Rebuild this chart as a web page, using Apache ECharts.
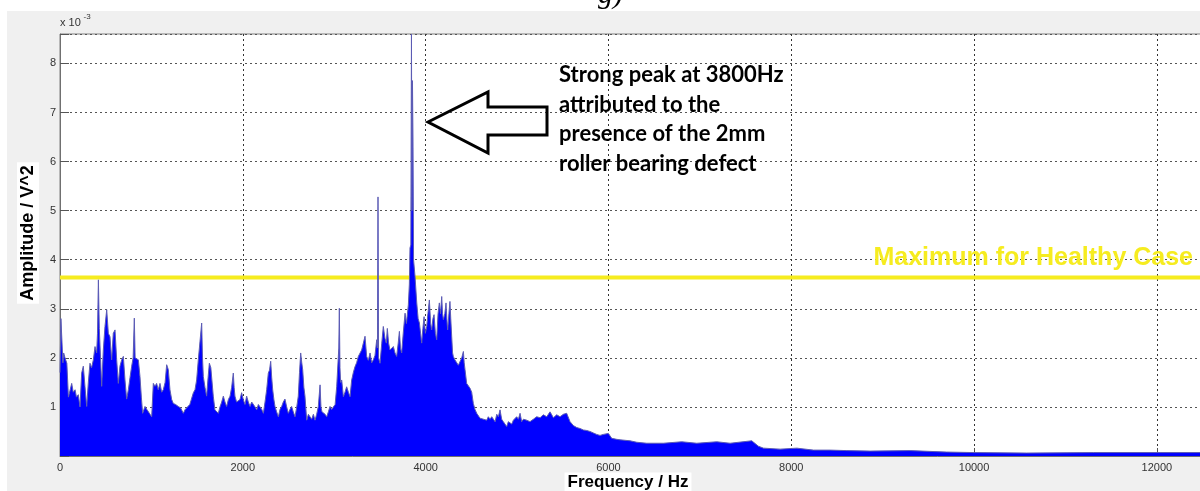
<!DOCTYPE html>
<html>
<head>
<meta charset="utf-8">
<script src="https://cdn.jsdelivr.net/npm/echarts@6/dist/echarts.min.js"></script>
<style>
html,body{margin:0;padding:0;background:#fff;overflow:hidden;width:1200px;height:491px;}
#bg{position:absolute;left:7px;top:11px;width:1193px;height:480px;background:#f0f0f0;}
#chart{position:absolute;left:0;top:0;width:1240px;height:491px;}
</style>
</head>
<body>
<div id="bg"></div>
<div id="chart"></div>
<script>
// ---- data ----
// Frequency (Hz) of each envelope point
const freqHz = [
0,10,25,32,40,55,75,92,109,128,145,165,180,200,219,237,255,273,292,310,328,345,365,383,401,410,420,430,438,456,474,492,511,529,547,565,583,602,620,638,656,675,693,711,729,748,766,784,800,813,822,832,857,875,890,904,930,950,967,985,1003,1021,1039,1057,1075,1094,1112,1130,1150,1167,1185,1203,1222,1240,1265,1294,1320,1349,1370,1386,1420,1459,1477,1495,1513,1530,1550,1559,1568,1586,1604,1620,1634,1650,1659,1677,1695,1714,1732,1750,1769,1787,1805,1823,1842,1860,1878,1896,1905,1914,1932,1951,1969,1987,2005,2024,2042,2060,2079,2097,2115,2134,2152,2170,2188,2207,2225,2243,2261,2279,2292,2305,2316,2327,2340,2352,2370,2389,2407,2425,2443,2461,2480,2498,2516,2534,2552,2571,2590,2607,2620,2633,2645,2655,2668,2680,
2699,2717,2735,2753,2772,2790,2808,2826,2845,2855,2866,2881,2900,2918,2936,2954,2972,2991,3010,3027,3040,3050,3056,3063,3070,3082,3100,3118,3136,3155,3173,3191,3209,3227,3245,3264,3282,3300,3318,3337,3355,3373,3392,3410,3428,3446,3465,3473,3479,3485,3501,3520,3537,3555,3570,3581,3595,3610,3628,3647,3665,3683,3700,3713,3725,3738,3755,3775,3790,3811,3822,3829,3838,3845,3850,3856,3862,3868,3884,3903,3918,3932,3945,3957,3970,3983,3997,4012,4025,4041,4055,4066,4080,4092,4107,4121,4136,4150,4163,4176,4185,4194,4210,4223,4232,4241,4255,4266,4275,4285,4295,4303,4320,4340,4358,4376,4395,4413,4422,4431,4449,4468,4486,4504,4522,4540,4559,4577,4595,4614,4632,4650,4668,4686,4705,4723,4741,4760,4778,4796,4814,4832,4850,4868,4887,4905,4923,4942,4960,4978,4996,5015,5033,5051,5070,5088,5106,5125,
5142,5179,5215,5252,5288,5325,5361,5398,5434,5470,5507,5543,5580,5616,5653,5690,5726,5762,5798,5835,5871,5908,5944,5999,6036,6090,6127,6236,6310,6419,6601,6802,6966,7185,7331,7568,7640,7696,7878,8061,8243,8425,8608,8863,9300,9700,10000,10576,11305,12035,12800
];
// Amplitude (x 10^-3 V^2) of each envelope point
const ampMilli = [
1.70,2.80,2.78,1.90,2.10,2.00,1.89,1.20,1.16,1.48,1.30,1.35,1.20,1.25,1.00,1.69,1.83,1.42,1.01,1.50,1.89,1.80,1.96,2.23,2.10,2.50,3.59,2.60,2.57,1.42,2.16,2.64,2.98,2.50,2.43,1.96,2.50,2.57,1.96,1.48,1.83,1.96,2.03,1.55,1.16,1.35,1.60,1.83,2.00,2.81,2.00,2.03,1.96,1.62,1.20,0.87,1.01,0.95,0.94,0.85,0.80,1.48,1.42,1.48,1.35,1.48,1.30,1.35,1.50,1.86,1.76,1.35,1.15,1.07,1.05,1.01,0.98,0.87,0.95,0.94,1.05,1.29,1.35,1.55,1.96,2.00,2.71,2.00,1.62,1.40,1.22,1.60,1.89,1.80,1.83,1.22,0.94,0.90,0.87,1.00,1.10,1.22,1.10,1.01,1.15,1.22,1.40,1.69,1.40,1.22,1.10,1.07,1.15,1.29,1.15,1.05,1.22,1.10,1.01,1.10,1.07,1.00,0.94,1.05,1.01,0.95,0.87,1.10,1.35,1.69,1.75,1.93,1.60,1.35,1.15,1.01,0.90,0.80,0.95,1.01,1.10,1.16,1.00,0.87,0.95,1.01,0.90,0.80,1.00,1.22,1.70,2.10,1.90,1.76,1.40,1.22,
0.73,0.85,0.87,0.75,0.85,0.73,0.85,1.01,1.45,1.00,0.90,0.94,0.85,0.80,0.90,1.01,0.95,0.94,1.05,1.41,1.45,2.20,3.01,1.80,1.50,1.55,1.21,1.30,1.41,1.30,1.21,1.55,1.70,1.82,1.90,2.03,2.00,2.16,2.20,2.44,2.03,1.95,2.10,1.90,1.96,2.05,2.37,2.20,5.28,2.00,1.89,2.30,2.64,2.40,2.30,2.60,2.30,2.16,2.20,2.23,2.10,2.03,2.30,2.54,2.20,2.10,2.50,2.91,2.70,3.08,3.50,4.24,4.30,8.60,5.00,7.65,6.40,4.00,3.66,3.12,2.80,2.71,2.50,2.30,2.60,2.84,2.50,2.64,2.90,3.18,2.70,2.57,2.80,2.88,2.50,2.37,2.90,3.12,2.90,3.25,2.90,2.78,2.90,3.12,2.80,2.57,2.90,3.15,2.80,2.44,2.10,2.03,1.96,1.96,1.85,1.82,2.00,2.13,1.90,1.76,1.48,1.45,1.38,1.30,1.07,0.95,0.87,0.85,0.77,0.80,0.75,0.78,0.73,0.80,0.75,0.80,0.80,0.70,0.85,0.80,0.94,0.75,0.70,0.65,0.60,0.70,0.72,0.65,0.73,0.70,0.80,0.75,0.87,0.70,0.75,0.72,0.73,0.70,
0.70,0.75,0.80,0.78,0.84,0.80,0.90,0.78,0.84,0.80,0.85,0.87,0.70,0.62,0.58,0.56,0.53,0.52,0.50,0.47,0.44,0.42,0.44,0.46,0.36,0.34,0.33,0.31,0.28,0.26,0.26,0.29,0.26,0.29,0.26,0.31,0.20,0.16,0.14,0.16,0.12,0.12,0.11,0.10,0.11,0.08,0.07,0.06,0.07,0.07,0.07
];
const healthyMax = 3.64;            // x 10^-3 V^2
const xTicks = [0,2000,4000,6000,8000,10000,12000];
const yTicks = [1,2,3,4,5,6,7,8];
const xMax = 12800, yMax = 8.6;
const annotationLines = ['Strong peak at 3800Hz','attributed to the','presence of the 2mm','roller bearing defect'];

const spectrum = freqHz.map((f,i)=>[f, ampMilli[i]]);

const chart = echarts.init(document.getElementById('chart'), null, {renderer:'canvas'});
const AX = 'Liberation Sans, Arial, sans-serif';

const graphics = [
  {type:'text', x:598, y:10, style:{text:'g)', font:'italic 30px "Liberation Serif", serif', fill:'#000', textAlign:'left', textVerticalAlign:'bottom'}, z:10},
  {type:'text', x:60, y:23, style:{text:'x 10', font:'11px '+AX, fill:'#333', textAlign:'left', textVerticalAlign:'middle'}, z:10},
  {type:'text', x:83.5, y:16.5, style:{text:'-3', font:'8px '+AX, fill:'#333', textAlign:'left', textVerticalAlign:'middle'}, z:10},
  {type:'text', x:28, y:233, rotation:Math.PI/2, style:{text:'Amplitude / V^2', font:'bold 18px '+AX, fill:'#000', textAlign:'center', textVerticalAlign:'middle', backgroundColor:'#fff', padding:[2,3]}, z:10},
  {type:'text', x:628, y:482, style:{text:'Frequency / Hz', font:'bold 17px '+AX, fill:'#000', textAlign:'center', textVerticalAlign:'middle', backgroundColor:'#fff', padding:[1,3]}, z:10},
  {type:'text', x:1193, y:258, style:{text:'Maximum for Healthy Case', font:'bold 25px '+AX, fill:'#f6ec1f', textAlign:'right', textVerticalAlign:'middle'}, z:10},
  {type:'polygon', shape:{points:[[428,122],[488,92],[488,107],[547,107],[547,135],[488,135],[488,153]]}, style:{stroke:'#000', lineWidth:3, fill:null}, z:10}
];
annotationLines.forEach((t,i)=>{
  graphics.push({type:'text', x:559, y:75+i*29.5, style:{text:t, font:'bold 22px Lato, "Open Sans", sans-serif', fill:'#000', textAlign:'left', textVerticalAlign:'middle'}, z:10});
});

chart.setOption({
  animation:false,
  backgroundColor:'transparent',
  grid:{left:60, top:34, width:1170, height:422, show:true, backgroundColor:'#fff', borderColor:'#808080', borderWidth:1, containLabel:false},
  xAxis:{
    type:'value', min:0, max:xMax, interval:2000,
    axisLine:{show:true, onZero:false, lineStyle:{color:'#707070', width:1}},
    axisTick:{show:true, inside:true, length:8, lineStyle:{color:'#555'}},
    axisLabel:{color:'#333', fontSize:11, fontFamily:AX, margin:6,
      formatter:v=> xTicks.indexOf(v)>=0 ? String(v) : ''},
    splitLine:{show:true, lineStyle:{color:'#333', width:1, type:[2,3]}}
  },
  yAxis:{
    type:'value', min:0, max:yMax, interval:1,
    axisLine:{show:true, lineStyle:{color:'#707070', width:1}},
    axisTick:{show:true, inside:true, length:9, lineStyle:{color:'#555'}},
    axisLabel:{color:'#333', fontSize:11, fontFamily:AX, margin:4,
      formatter:v=> yTicks.indexOf(v)>=0 ? String(v) : ''},
    splitLine:{show:true, lineStyle:{color:'#555', width:1, type:[2,3]}}
  },
  series:[
    {name:'Maximum for Healthy Case', type:'line', data:[[0,healthyMax],[xMax,healthyMax]],
     symbol:'none', lineStyle:{color:'#f6ec1f', width:4}, z:2, silent:true},
    {name:'Spectrum', type:'line', data:spectrum, symbol:'none', smooth:false,
     lineStyle:{color:'#5c5cb4', width:1}, areaStyle:{color:'#0000ff', opacity:1}, z:3, silent:true}
  ],
  graphic:graphics
});
</script>
</body>
</html>
